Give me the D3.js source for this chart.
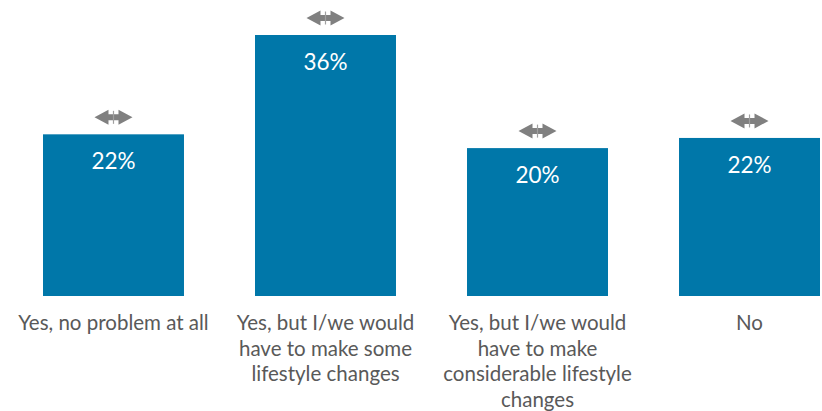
<!DOCTYPE html>
<html>
<head>
<meta charset="utf-8">
<script src="https://cdn.jsdelivr.net/npm/d3@7"></script>
<style>
	body { margin: 0; background: #fff; }
	svg { display: block; }
	.bar-label { fill: #fff; font-family: "Lato", sans-serif; font-size: 22.5px; }
	.cat-label { fill: #595959; font-family: "Lato", sans-serif; font-size: 20.5px; }
</style>
</head>
<body>
<svg id="chart" width="822" height="411"></svg>
<script>
;( function() {

	"use strict";

	//data
	var categories = [ "yes", "yesSome", "yesConsiderable", "no" ],
		values = [ 22.3, 36, 20.4, 21.8 ],
		valueLabels = [ "22%", "36%", "20%", "22%" ],
		categoryLines = [
			[ "Yes, no problem at all" ],
			[ "Yes, but I/we would", "have to make some", "lifestyle changes" ],
			[ "Yes, but I/we would", "have to make", "considerable lifestyle", "changes" ],
			[ "No" ]
		];

	var baseline = 296,
		barColor = "#0077a9",
		arrowColor = "#808080",
		lineHeight = 25.5;

	var svg = d3.select( "#chart" );

	var x = d3.scaleBand()
		.domain( categories )
		.range( [ 43, 820 ] )
		.paddingInner( 0.335 )
		.paddingOuter( 0 );

	var y = d3.scaleLinear()
		.domain( [ 0, 36 ] )
		.range( [ baseline, 35 ] );

	var g = svg.selectAll( ".bar-group" )
		.data( categories )
		.enter()
		.append( "g" )
			.attr( "class", "bar-group" );

	g.append( "rect" )
		.attr( "x", function( d ) { return x( d ); } )
		.attr( "y", function( d, i ) { return y( values[ i ] ); } )
		.attr( "width", x.bandwidth() )
		.attr( "height", function( d, i ) { return baseline - y( values[ i ] ); } )
		.style( "fill", barColor );

	g.append( "text" )
		.attr( "class", "bar-label" )
		.attr( "x", function( d ) { return x( d ) + x.bandwidth() / 2; } )
		.attr( "y", function( d, i ) { return y( values[ i ] ) + 35; } )
		.attr( "text-anchor", "middle" )
		.text( function( d, i ) { return valueLabels[ i ]; } );

	//"no change" double arrow above each bar
	var arrow = g.append( "g" )
		.attr( "transform", function( d, i ) { return "translate(" + ( x( d ) + x.bandwidth() / 2 ) + "," + ( y( values[ i ] ) - 17 ) + ")"; } );
	arrow.append( "path" )
		.attr( "d", "M-19,0 L-5,-7.5 L-5,-3 L5,-3 L5,-7.5 L19,0 L5,7.5 L5,3 L-5,3 L-5,7.5 Z" )
		.style( "fill", arrowColor );
	arrow.append( "line" )
		.attr( "x1", 0 ).attr( "y1", -6.5 )
		.attr( "x2", 0 ).attr( "y2", 6.5 )
		.style( "stroke", "#a0a0a0" )
		.style( "stroke-width", 1.2 );

	var labels = g.append( "text" )
		.attr( "class", "cat-label" )
		.attr( "text-anchor", "middle" )
		.attr( "x", function( d ) { return x( d ) + x.bandwidth() / 2; } )
		.attr( "y", 330 );
	labels.selectAll( "tspan" )
		.data( function( d, i ) { return categoryLines[ i ]; } )
		.enter()
		.append( "tspan" )
			.attr( "x", function() { return d3.select( this.parentNode ).attr( "x" ); } )
			.attr( "dy", function( d, i ) { return i === 0 ? 0 : lineHeight; } )
			.text( function( d ) { return d; } );

})();
</script>
</body>
</html>
